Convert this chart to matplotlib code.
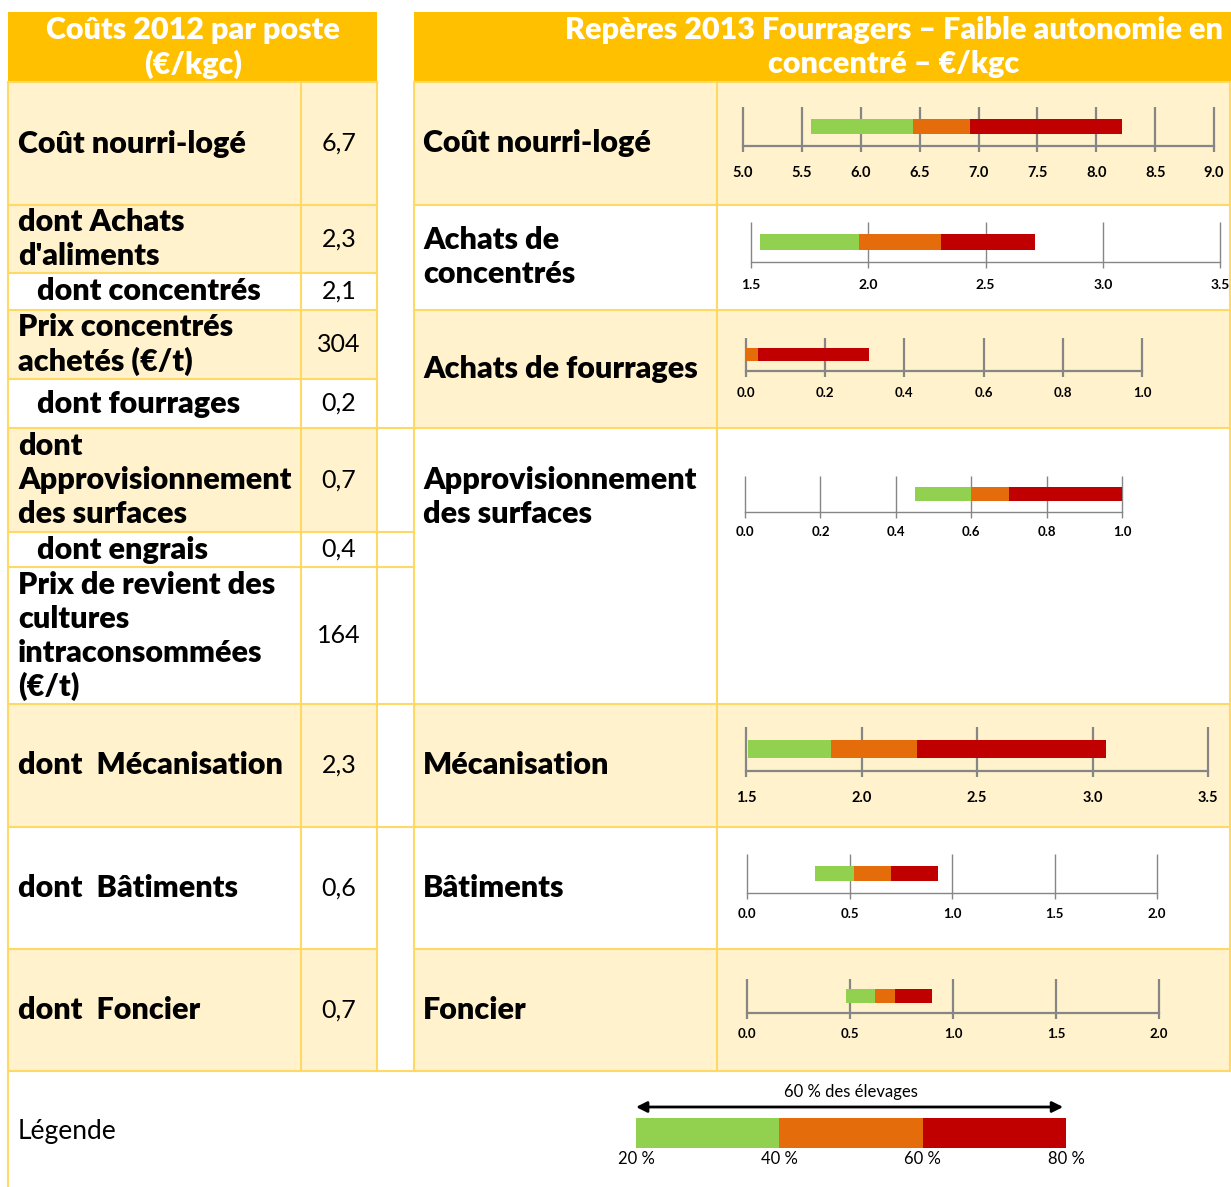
import numpy as np
import matplotlib.pyplot as plt
from matplotlib.patches import Rectangle

plt.rcParams['font.family'] = ['Lato', 'DejaVu Sans']

# --- left table : costs 2012 ---
poste_labels = ["Coût nourri-logé", "dont Achats\nd'aliments", "dont concentrés",
                "Prix concentrés\nachetés (€/t)", "dont fourrages",
                "dont\nApprovisionnement\ndes surfaces", "dont engrais",
                "Prix de revient des\ncultures\nintraconsommées\n(€/t)",
                "dont  Mécanisation", "dont  Bâtiments", "dont  Foncier"]
poste_values = ["6,7", "2,3", "2,1", "304", "0,2", "0,7", "0,4", "164", "2,3", "0,6", "0,7"]

# --- right table : repères 2013 (quantiles 20/40/60/80 %) ---
repere_labels = ["Coût nourri-logé", "Achats de\nconcentrés", "Achats de fourrages",
                 "Approvisionnement\ndes surfaces", "Mécanisation", "Bâtiments", "Foncier"]
q20 = [5.58, 1.54, 0.00, 0.45, 1.51, 0.33, 0.48]
q40 = [6.44, 1.96, 0.00, 0.60, 1.87, 0.52, 0.62]
q60 = [6.93, 2.31, 0.03, 0.70, 2.24, 0.70, 0.72]
q80 = [8.22, 2.71, 0.31, 1.00, 3.06, 0.93, 0.90]
axis_min = [5.0, 1.5, 0.0, 0.0, 1.5, 0.0, 0.0]
axis_max = [9.0, 3.5, 1.0, 1.0, 3.5, 2.0, 2.0]
axis_step = [0.5, 0.5, 0.2, 0.2, 0.5, 0.5, 0.5]

legend_pct = [20, 40, 60, 80]

HEADER = "#FFC000"
CREAM = "#FFF2CC"
BORDER = "#FFD966"
GREEN = "#92D050"
ORANGE = "#E46C0A"
RED = "#C00000"
GRID = "#868686"

W, H = 1231, 1187
fig = plt.figure(figsize=(W / 100, H / 100), dpi=100)
tab = fig.add_axes([0, 0, 1, 1])
tab.set_xlim(0, W)
tab.set_ylim(H, 0)
tab.axis('off')


def rect_fig(x0, y0, x1, y1):
    return [x0 / W, 1 - y1 / H, (x1 - x0) / W, (y1 - y0) / H]


def cell(x0, y0, x1, y1, color):
    tab.add_patch(Rectangle((x0, y0), x1 - x0, y1 - y0, facecolor=color, edgecolor='none', zorder=0))


def lines_text(x, yc, txt, ha='left', step=34, **kw):
    parts = txt.split("\n")
    y0 = yc - step * (len(parts) - 1) / 2
    for k, p in enumerate(parts):
        tab.text(x, y0 + k * step, p, ha=ha, va='center', **kw)


FS = 22
WT = 'heavy'

# headers
cell(8, 12, 377, 82, HEADER)
cell(414, 12, 1231, 82, HEADER)
lines_text(193, 47, "Coûts 2012 par poste\n(€/kgc)", ha='center', color='white', fontsize=FS, fontweight=WT)
lines_text(894, 47, "Repères 2013 Fourragers – Faible autonomie en\nconcentré – €/kgc", ha='center',
           color='white', fontsize=FS, fontweight=WT)

# left table
left_y = [82, 205, 273, 310, 379, 428, 532, 567, 704, 827, 949, 1071]
left_fill = [CREAM, CREAM, 'white', CREAM, 'white', CREAM, 'white', 'white', CREAM, 'white', CREAM]
left_indent = [18, 18, 37, 18, 37, 18, 37, 18, 18, 18, 18]
for i in range(len(poste_labels)):
    y0, y1 = left_y[i], left_y[i + 1]
    cell(8, y0, 377, y1, left_fill[i])
    yc = (y0 + y1) / 2
    lines_text(left_indent[i], yc, poste_labels[i], fontsize=FS, fontweight=WT)
    tab.text(339, yc, poste_values[i], ha='center', va='center', fontsize=18)
    tab.plot([8, 377], [y0, y0], color=BORDER, lw=1.5, zorder=1)
tab.plot([8, 1231], [1071, 1071], color=BORDER, lw=1.5, zorder=1)
tab.plot([8, 8], [82, H], color=BORDER, lw=1.5, zorder=1)
for x in [301, 377, 414, 717, 1230]:
    tab.plot([x, x], [82, 1071], color=BORDER, lw=1.5, zorder=1)
for y in [428, 532, 567, 704, 827]:
    tab.plot([377, 414], [y, y], color=BORDER, lw=1.5, zorder=1)

# right table
right_y = [82, 205, 310, 428, 704, 827, 949, 1071]
right_fill = [CREAM, 'white', CREAM, 'white', CREAM, 'white', CREAM]
right_text_y = [143, 257, 369, 497, 765, 888, 1010]
for i in range(len(repere_labels)):
    y0, y1 = right_y[i], right_y[i + 1]
    cell(414, y0, 1231, y1, right_fill[i])
    lines_text(423, right_text_y[i], repere_labels[i], fontsize=FS, fontweight=WT)
    tab.plot([414, 1231], [y0, y0], color=BORDER, lw=1.5, zorder=1)

# range bars
chart_box = [(743, 1214, 107, 146), (751, 1220, 222, 262), (746, 1142, 338, 371),
             (745, 1122, 476, 512), (746, 1208, 727, 771), (747, 1157, 854, 893),
             (747, 1159, 979, 1013)]
label_gap = [19, 16, 15, 13, 19, 14, 14]
tick_fs = [10.5, 10, 9.5, 9.5, 10.5, 9.5, 9.5]
line_w = [1.6, 1.0, 1.6, 1.0, 1.6, 1.0, 1.6]
for i in range(len(repere_labels)):
    x0, x1, yt, yb = chart_box[i]
    ax = fig.add_axes(rect_fig(x0, yt, x1, yb))
    ax.set_facecolor('none')
    ax.set_xlim(axis_min[i], axis_max[i])
    ax.set_ylim(0, 1)
    ticks = np.arange(axis_min[i], axis_max[i] + axis_step[i] / 2, axis_step[i])
    ax.vlines(ticks, 0, 1, color=GRID, lw=line_w[i], clip_on=False, zorder=1)
    ax.barh(0.5, q40[i] - q20[i], left=q20[i], height=0.4, color=GREEN, zorder=2)
    ax.barh(0.5, q60[i] - q40[i], left=q40[i], height=0.4, color=ORANGE, zorder=2)
    ax.barh(0.5, q80[i] - q60[i], left=q60[i], height=0.4, color=RED, zorder=2)
    for s in ['top', 'left', 'right']:
        ax.spines[s].set_visible(False)
    ax.spines['bottom'].set_color(GRID)
    ax.spines['bottom'].set_linewidth(line_w[i])
    ax.set_yticks([])
    ax.set_xticks(ticks)
    ax.set_xticklabels([f"{t:.1f}" for t in ticks], fontsize=tick_fs[i], fontweight='bold')
    ax.tick_params(axis='x', length=4, width=line_w[i], color=GRID,
                   pad=(label_gap[i] - 4.5) * 0.72)

# legend
tab.text(18, 1131, "Légende", ha='left', va='center', fontsize=19)
lg = fig.add_axes(rect_fig(636, 1080, 1066, 1175))
lg.set_xlim(legend_pct[0], legend_pct[-1])
lg.set_ylim(1175, 1080)
lg.axis('off')
leg_colors = [GREEN, ORANGE, RED]
for k in range(3):
    lg.barh(1133, legend_pct[k + 1] - legend_pct[k], left=legend_pct[k], height=30,
            color=leg_colors[k])
for p in legend_pct:
    lg.text(p, 1159, f"{p} %", ha='center', va='center', fontsize=12, clip_on=False)
lg.annotate('', xy=(20, 1107), xytext=(79.6, 1107),
            arrowprops=dict(arrowstyle='<|-|>', color='black', lw=2, shrinkA=0, shrinkB=0,
                            mutation_scale=16))
lg.text(50, 1092, "60 % des élevages", ha='center', va='center', fontsize=12)

fig.savefig("out.png", dpi=100)
